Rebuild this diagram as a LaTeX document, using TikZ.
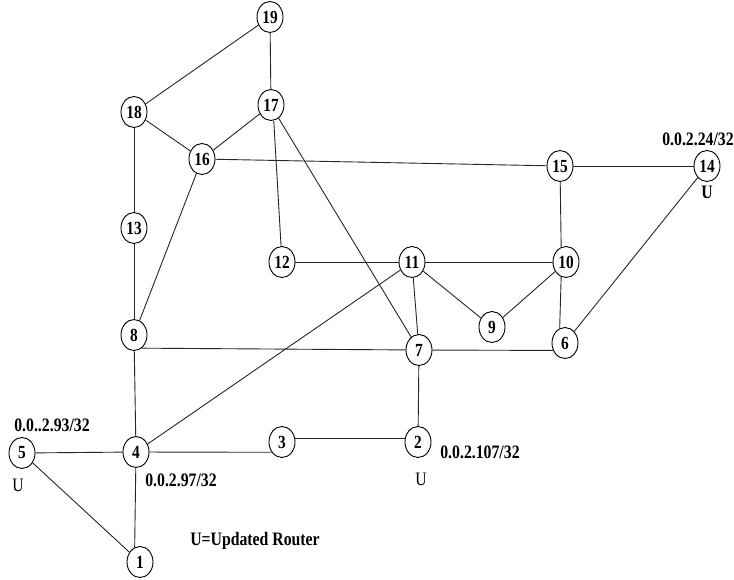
\documentclass[tikz,border=0pt]{standalone}
\usepackage{fontspec}
\setmainfont{Liberation Serif}
\newfontfamily\lblfont[FakeStretch=0.83]{Liberation Serif}
\usetikzlibrary{shapes.geometric}
\tikzset{
  router/.style={draw, ellipse, minimum width=26pt, minimum height=31pt, inner sep=0pt,
    line width=0.9pt, font=\lblfont\bfseries\fontsize{18.5}{20}\selectfont},
  link/.style={line width=0.9pt, black!85},
  addr/.style={inner sep=0pt, font=\lblfont\bfseries\fontsize{19}{21}\selectfont},
  upd/.style={inner sep=0pt, font=\lblfont\fontsize{19}{21}\selectfont},
}
\begin{document}
\begin{tikzpicture}[x=1pt, y=-1pt]
\useasboundingbox (0,0) rectangle (734,579);
\node[router] (19) at (270,17) {19};
\node[router] (18) at (134,112) {18};
\node[router] (17) at (271,105) {17};
\node[router] (16) at (202,159) {16};
\node[router] (15) at (560,166) {15};
\node[router] (14) at (707,166) {14};
\node[router] (13) at (134,228) {13};
\node[router] (12) at (282,262) {12};
\node[router] (11) at (412,262) {11};
\node[router] (10) at (566,262) {10};
\node[router] (9) at (492,327) {9};
\node[router] (8) at (134,335) {8};
\node[router] (7) at (419,350) {7};
\node[router] (6) at (565,343) {6};
\node[router] (5) at (22,453) {5};
\node[router] (4) at (136,452) {4};
\node[router] (3) at (282,442) {3};
\node[router] (2) at (418,442) {2};
\node[router] (1) at (140,562) {1};

\draw[link] (19) -- (18);
\draw[link] (19) -- (17);
\draw[link] (18) -- (16);
\draw[link] (17) -- (16);
\draw[link] (18) -- (13);
\draw[link] (13) -- (8);
\draw[link] (16) -- (8);
\draw[link] (16) -- (15);
\draw[link] (15) -- (14);
\draw[link] (17.-80) -- (12);
\draw[link] (17.-60) -- (7);
\draw[link] (12) -- (11);
\draw[link] (11) -- (10);
\draw[link] (11) -- (9);
\draw[link] (9) -- (10);
\draw[link] (11) -- (7);
\draw[link] (11) -- (4);
\draw[link] (15) -- (10.108);
\draw[link] (10.-108) -- (6.110);
\draw[link] (14) -- (6);
\draw[link] (8.-60) -- (7);
\draw[link] (7) -- (6.-148);
\draw[link] (7) -- (2);
\draw[link] (3.15) -- (2.165);
\draw[link] (4) -- (3.-135);
\draw[link] (4) -- (5);
\draw[link] (5) -- (1);
\draw[link] (8) -- (4);
\draw[link] (4) -- (1.110);

\node[addr] (a5) at (52,425) {0.0..2.93/32};
\node[upd] (u5) at (18,485) {U};
\node[addr] (a4) at (181,480) {0.0.2.97/32};
\node[addr] (a2) at (480,452) {0.0.2.107/32};
\node[upd] (u2) at (421,479) {U};
\node[addr] (a14) at (698,139) {0.0.2.24/32};
\node[addr] (u14) at (707,192) {U};
\node[addr] (leg) at (255,541) {U=Updated Router};
\end{tikzpicture}
\end{document}
